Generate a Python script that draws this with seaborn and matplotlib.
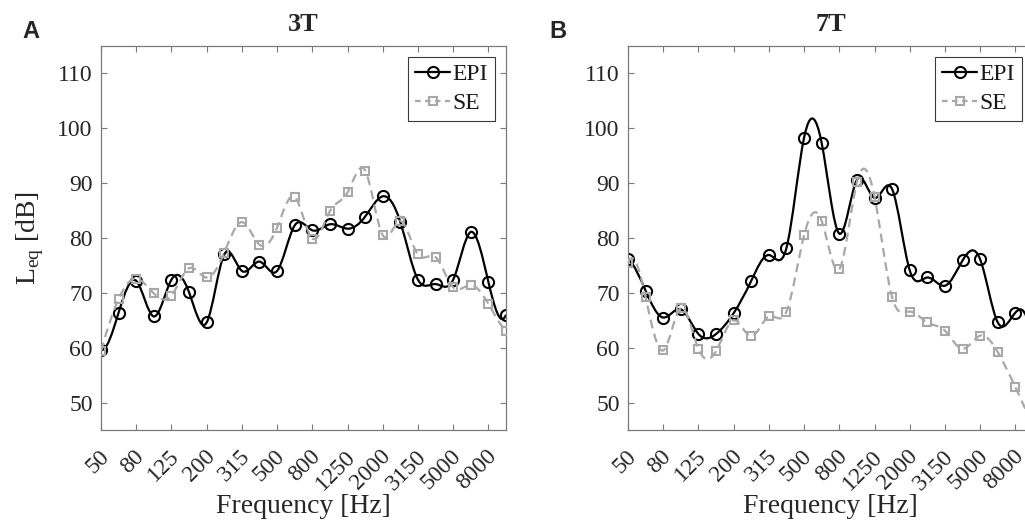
import matplotlib
matplotlib.use("Agg")
import matplotlib.pyplot as plt
import matplotlib.transforms as mtransforms
import numpy as np
import seaborn as sns
from matplotlib.lines import Line2D
from matplotlib.patches import PathPatch
from matplotlib.path import Path

# Third-octave band centre frequencies [Hz]
bands = [50, 63, 80, 100, 125, 160, 200, 250, 315, 400, 500, 630,
         800, 1000, 1250, 1600, 2000, 2500, 3150, 4000, 5000, 6300, 8000, 10000]
tick_labels = ["50", "80", "125", "200", "315", "500", "800", "1250",
               "2000", "3150", "5000", "8000"]
y_ticks = [50, 60, 70, 80, 90, 100, 110]

# Leq [dB] per band
epi_3t = [59.6, 66.4, 72.2, 65.7, 72.4, 70.1, 64.6, 77.0, 74.0, 75.7, 74.0, 82.3,
          81.4, 82.5, 81.7, 83.9, 87.6, 82.9, 72.4, 71.6, 72.4, 81.1, 72.0, 66.0]
se_3t = [59.4, 68.9, 72.6, 69.9, 69.5, 74.5, 72.8, 77.3, 82.9, 78.8, 81.9, 87.5,
         79.9, 84.9, 88.3, 92.3, 80.5, 83.1, 77.0, 76.5, 71.0, 71.4, 68.0, 63.0]
epi_7t = [76.1, 70.4, 65.5, 67.0, 62.5, 62.5, 66.3, 72.2, 76.9, 78.2, 98.3, 97.3,
          80.8, 90.6, 87.3, 88.9, 74.1, 72.8, 71.3, 75.9, 76.1, 64.6, 66.4, 60.0]
se_7t = [75.4, 69.2, 59.5, 67.2, 59.8, 59.4, 65.0, 62.1, 65.7, 66.6, 80.5, 83.1,
         74.3, 90.2, 87.5, 69.2, 66.6, 64.6, 63.1, 59.8, 62.2, 59.2, 52.8, 46.0]

EPI_COLOR = "black"
SE_COLOR = "#a8a8a8"
SERIF = "Liberation Serif"


def spline_path(x, y):
    """Cubic spline (not-a-knot) through the points, as a Bezier path"""
    x = np.asarray(x, float)
    y = np.asarray(y, float)
    n = len(y)
    A = np.zeros((n, n))
    b = np.zeros(n)
    A[0, :3] = [1, -2, 1]
    A[-1, -3:] = [1, -2, 1]
    for i in range(1, n - 1):
        A[i, i - 1:i + 2] = [1, 4, 1]
        b[i] = 6 * (y[i + 1] - 2 * y[i] + y[i - 1])
    M = np.linalg.solve(A, b)
    slope = np.empty(n)
    slope[:-1] = np.diff(y) - (2 * M[:-1] + M[1:]) / 6
    slope[-1] = y[-1] - y[-2] + (M[-2] + 2 * M[-1]) / 6
    verts = [(x[0], y[0])]
    codes = [Path.MOVETO]
    for i in range(n - 1):
        verts += [(x[i] + 1 / 3, y[i] + slope[i] / 3),
                  (x[i + 1] - 1 / 3, y[i + 1] - slope[i + 1] / 3),
                  (x[i + 1], y[i + 1])]
        codes += [Path.CURVE4] * 3
    return Path(verts, codes)


def draw_panel(ax, epi, se, title, letter, ylabel):
    x = np.arange(len(bands))

    # Smooth lines
    ax.add_patch(PathPatch(spline_path(x, epi), fill=False, ec=EPI_COLOR,
                           lw=1.6, zorder=2))
    ax.add_patch(PathPatch(spline_path(x, se), fill=False, ec=SE_COLOR,
                           lw=1.6, ls=(0, (4, 2.5)), zorder=3))

    # Markers
    sns.lineplot(x=x, y=epi, ax=ax, color=EPI_COLOR, marker="o", linestyle="",
                 markersize=8, markerfacecolor="none", markeredgecolor=EPI_COLOR,
                 markeredgewidth=1.5, zorder=2.5)
    sns.lineplot(x=x, y=se, ax=ax, color=SE_COLOR, marker="s", linestyle="",
                 markersize=5.5, markerfacecolor="none", markeredgecolor=SE_COLOR,
                 markeredgewidth=1.5, zorder=3.5)

    ax.set_xlim(0, len(bands) - 1)
    ax.set_ylim(45, 115)
    ax.set_yticks(y_ticks)
    ax.set_yticklabels([str(v) for v in y_ticks], fontfamily=SERIF, fontsize=17)
    ax.set_xticks(x[::2])
    ax.set_xticklabels(tick_labels, rotation=45, ha="right", va="center",
                       rotation_mode="anchor", fontfamily=SERIF, fontsize=17)

    ax.tick_params(direction="in", length=4, width=0.8, color="#7a7a7a",
                   top=True, right=True, labelcolor="#262626", pad=6)
    for spine in ax.spines.values():
        spine.set_visible(True)
        spine.set_color("#7a7a7a")
        spine.set_linewidth(0.9)

    # Shift the rotated tick labels like the original layout
    offset = mtransforms.ScaledTranslation(5 / 100, -15 / 100, ax.figure.dpi_scale_trans)
    for lab in ax.get_xticklabels():
        lab.set_transform(lab.get_transform() + offset)

    ax.set_title(title, fontfamily=SERIF, fontweight="bold", fontsize=19, pad=11)
    ax.set_xlabel("Frequency [Hz]", fontfamily=SERIF, fontsize=20, color="#262626",
                  labelpad=0)
    if ylabel:
        ax.set_ylabel(r"L$_{\rm eq}$ [dB]", fontfamily=SERIF, fontsize=20,
                      color="#262626", labelpad=8)
    else:
        ax.set_ylabel("")
    ax.grid(False)

    handles = [
        Line2D([], [], color=EPI_COLOR, lw=1.6, marker="o", markersize=8,
               markerfacecolor="none", markeredgewidth=1.5),
        Line2D([], [], color=SE_COLOR, lw=1.6, ls=(0, (2.5, 2.0)), marker="s",
               markersize=5.5, markerfacecolor="none", markeredgewidth=1.5),
    ]
    leg = ax.legend(handles, ["EPI", "SE"], loc="upper right", fancybox=False,
                    framealpha=1, edgecolor="#3a3a3a", borderaxespad=0.45,
                    handlelength=1.5, handletextpad=0.1, borderpad=0.3,
                    labelspacing=0.3, prop={"family": SERIF, "size": 17})
    leg.get_frame().set_linewidth(0.8)
    for t in leg.get_texts():
        t.set_color("#1a1a1a")

    ax.figure.text(ax.get_position().x0 - (101 - 22) / 1025, 0.94, letter,
                   fontfamily="Liberation Sans", fontweight="bold", fontsize=17,
                   va="center", ha="left")


sns.set_theme(style="ticks")
plt.rcParams["font.family"] = [SERIF, "DejaVu Serif"]
plt.rcParams["mathtext.fontset"] = "custom"
plt.rcParams["mathtext.rm"] = SERIF

fig = plt.figure(figsize=(10.25, 5.3), dpi=100)
ax_3t = fig.add_axes([101 / 1025, 100 / 530, 405 / 1025, 384 / 530])
ax_7t = fig.add_axes([628 / 1025, 100 / 530, 405 / 1025, 384 / 530])

draw_panel(ax_3t, epi_3t, se_3t, "3T", "A", True)
draw_panel(ax_7t, epi_7t, se_7t, "7T", "B", False)

fig.savefig("out.png", dpi=100)
plt.close(fig)
